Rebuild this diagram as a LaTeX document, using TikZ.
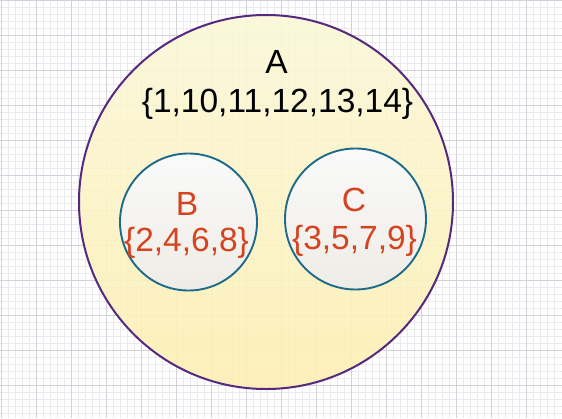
\documentclass[tikz,border=0pt]{standalone}
\usepackage{fontspec}
\setmainfont{Liberation Sans}
\definecolor{gridminor}{HTML}{EBEBEF}
\definecolor{gridmajor}{HTML}{D2D2D8}
\definecolor{outerline}{HTML}{55297F}
\definecolor{outertop}{HTML}{FBF8D8}
\definecolor{outerbot}{HTML}{FDEFB4}
\definecolor{innerline}{HTML}{1D6A8A}
\definecolor{innertop}{HTML}{FAFAFA}
\definecolor{innerbot}{HTML}{EEECE6}
\definecolor{settext}{HTML}{D6431F}
\tikzset{
  outerset/.style={circle, inner sep=0pt, minimum size=374pt, draw=outerline, line width=2pt,
    top color=outertop, bottom color=outerbot, fill opacity=0.9, draw opacity=1},
  innerset/.style={circle, inner sep=0pt, draw=innerline, line width=1.9pt,
    top color=innertop, bottom color=innerbot},
  lbl/.style={anchor=base, inner sep=0pt, font=\fontsize{33.5}{40}\selectfont},
}
\begin{document}
\begin{tikzpicture}[x=1pt,y=-1pt]
\useasboundingbox (0,0) rectangle (562,418);
\fill[white] (0,0) rectangle (562,418);
% grid
\foreach \k in {0,...,80} {
  \draw[gridminor, line width=0.6pt] ({1+7.01*\k},0) -- ({1+7.01*\k},418);
}
\foreach \k in {0,...,60} {
  \draw[gridminor, line width=0.6pt] (0,{7.01*\k}) -- (562,{7.01*\k});
}
\foreach \k in {0,...,16} {
  \draw[gridmajor, line width=0.6pt] ({1+35.05*\k},0) -- ({1+35.05*\k},418);
}
\foreach \k in {0,...,12} {
  \draw[gridmajor, line width=0.6pt] (0,{35.05*\k}) -- (562,{35.05*\k});
}
% sets
\node[outerset] (A) at (266,202) {};
\node[innerset, minimum size=137pt] (B) at (188.5,222) {};
\node[innerset, minimum size=141pt] (C) at (355.5,219) {};
% labels
\node[lbl] (Aname) at (276.5,73) {A};
\node[lbl] (Aelems) at (277.5,112.5) {\{1,10,11,12,13,14\}};
\node[lbl, text=settext] (Bname) at (187,215) {B};
\node[lbl, text=settext] (Belems) at (186.5,251.5) {\{2,4,6,8\}};
\node[lbl, text=settext] (Cname) at (354,211.5) {C};
\node[lbl, text=settext] (Celems) at (354.5,249) {\{3,5,7,9\}};
\end{tikzpicture}
\end{document}
